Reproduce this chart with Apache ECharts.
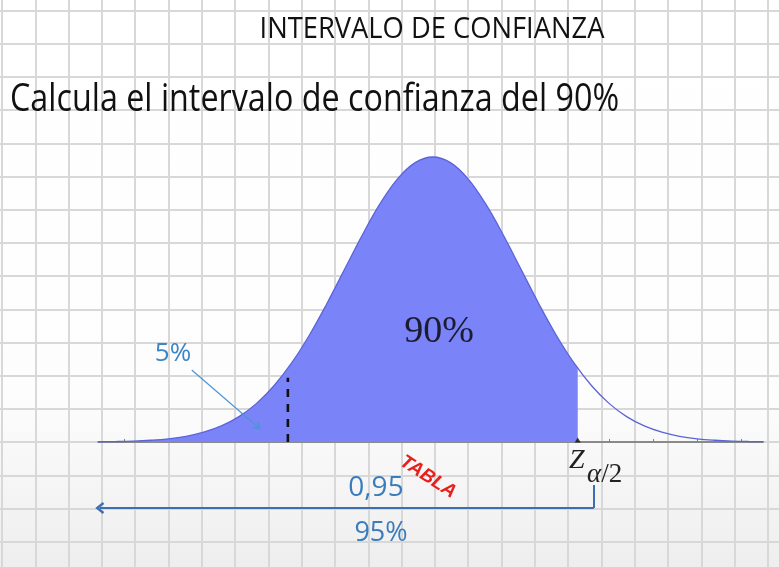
<!DOCTYPE html>
<html>
<head>
<meta charset="utf-8">
<script src="https://cdn.jsdelivr.net/npm/echarts@6/dist/echarts.min.js"></script>
<style>html,body{margin:0;padding:0;background:#fff}#c{width:779px;height:567px}</style>
</head>
<body>
<div id="c"></div>
<script>
// ---- data ----
const zValues = [-3.8,-3.6,-3.4,-3.2,-3.0,-2.8,-2.6,-2.4,-2.2,-2.0,-1.8,-1.6,-1.4,-1.2,-1.0,-0.8,-0.6,-0.4,-0.2,0,0.2,0.4,0.6,0.8,1.0,1.2,1.4,1.6,1.8,2.0,2.2,2.4,2.6,2.8,3.0,3.2,3.4,3.6,3.75];
const density = [0.0003,0.0006,0.0012,0.0024,0.0044,0.0079,0.0136,0.0224,0.0355,0.0540,0.0790,0.1109,0.1497,0.1942,0.2420,0.2897,0.3332,0.3683,0.3910,0.3989,0.3910,0.3683,0.3332,0.2897,0.2420,0.1942,0.1497,0.1109,0.0790,0.0540,0.0355,0.0224,0.0136,0.0079,0.0044,0.0024,0.0012,0.0006,0.0004];
const upperZ = 1.645, upperDensity = 0.1031;     // z_{alpha/2}
const lowerZ = -1.645, lowerDashTop = 0.09;      // dashed line
const tickValues = [-3.5,-3,-2.5,-2,-1.5,-1,-0.5,0,0.5,1,1.5,2,2.5,3,3.5];
const tailArrow = [[-2.736, 0.1008], [-1.986, 0.021]];            // "5%" pointer
const tableArrow = [[1.827, -0.0602], [1.827, -0.0924], [-3.78, -0.0924]]; // 0,95 / 95% arrow
const titleText = 'INTERVALO DE CONFIANZA';
const questionText = 'Calcula el intervalo de confianza del 90%';

const curve = zValues.map((z, i) => [z, density[i]]);
const shaded = curve.filter(p => p[0] < upperZ).concat([[upperZ, upperDensity]]);
const dashData = [[lowerZ, 0], [lowerZ, lowerDashTop]];

const SANS = '"Open Sans", "Liberation Sans", sans-serif';
const SERIF = '"Liberation Serif", "DejaVu Serif", serif';
const chevron = 'path://M5,0 L10,7 L8.4,8.4 L5,3.6 L1.6,8.4 L0,7 Z';

const chart = echarts.init(document.getElementById('c'), null, {renderer: 'canvas'});
chart.setOption({
  animation: false,
  backgroundColor: {type: 'linear', x: 0, y: 0, x2: 0, y2: 1, colorStops: [
    {offset: 0, color: '#ffffff'}, {offset: 0.7, color: '#fdfdfd'}, {offset: 1, color: '#eeeeee'}]},
  grid: [
    {left: 98, top: 156.2, width: 665.2, height: 407.2, outerBoundsMode: 'none'},
    {left: -31.3, top: -22.7, width: 832.5, height: 630.8, outerBoundsMode: 'none'}
  ],
  xAxis: [
    {type: 'value', gridIndex: 0, min: -3.8, max: 3.75,
      axisLine: {show: true, onZero: true, lineStyle: {color: '#707070', width: 1.5}},
      axisTick: {show: true, inside: true, length: 3, customValues: tickValues, lineStyle: {color: '#808080', width: 1}},
      axisLabel: {show: false}, splitLine: {show: false}},
    {type: 'value', gridIndex: 1, min: 0, max: 25, interval: 1,
      axisLine: {show: false}, axisTick: {show: false}, axisLabel: {show: false},
      splitLine: {show: true, lineStyle: {color: '#d8d8d8', width: 2}}}
  ],
  yAxis: [
    {type: 'value', gridIndex: 0, min: -0.17, max: 0.4, show: false, splitLine: {show: false}},
    {type: 'value', gridIndex: 1, min: 0, max: 19, interval: 1,
      axisLine: {show: false}, axisTick: {show: false}, axisLabel: {show: false},
      splitLine: {show: true, lineStyle: {color: '#d8d8d8', width: 2}}}
  ],
  series: [
    {type: 'line', xAxisIndex: 0, yAxisIndex: 0, data: shaded, smooth: 0.4, symbol: 'none',
      lineStyle: {width: 0}, areaStyle: {color: '#7b83f9', opacity: 1}, silent: true, z: 2},
    {type: 'line', xAxisIndex: 0, yAxisIndex: 0, data: curve, smooth: 0.4, symbol: 'none',
      lineStyle: {color: '#5a64d8', width: 1.3}, silent: true, z: 3},
    {type: 'line', xAxisIndex: 0, yAxisIndex: 0, data: dashData, symbol: 'none',
      lineStyle: {color: '#111111', width: 2.6, type: [8, 7]}, silent: true, z: 4,
      markLine: {silent: true, animation: false, label: {show: false}, emphasis: {disabled: true},
        data: [
          [{coord: tailArrow[0], symbol: 'none', lineStyle: {color: '#5094d6', width: 1.2, type: 'solid'}},
           {coord: tailArrow[1], symbol: chevron, symbolSize: [9, 8]}],
          [{coord: tableArrow[0], symbol: 'none', lineStyle: {color: '#3e6eb0', width: 2, type: 'solid'}},
           {coord: tableArrow[1], symbol: 'none'}],
          [{coord: tableArrow[1], symbol: 'none', lineStyle: {color: '#3e6eb0', width: 2, type: 'solid'}},
           {coord: tableArrow[2], symbol: chevron, symbolSize: [12, 9]}]
        ]}},
    {type: 'scatter', xAxisIndex: 0, yAxisIndex: 0, data: [[upperZ, 0]], symbol: 'triangle',
      symbolSize: [6, 5], symbolOffset: [0, -2], itemStyle: {color: '#111'}, silent: true, z: 5}
  ],
  graphic: [
    {type: 'text', x: 432, y: 29, scaleX: 0.91, style: {text: titleText, x: 0, y: 0, align: 'center', verticalAlign: 'middle',
      font: '30px ' + SANS, fill: '#111'}, z: 10},
    {type: 'text', x: 10, y: 100, scaleX: 0.85, style: {text: questionText, x: 0, y: 0, align: 'left', verticalAlign: 'middle',
      font: '38px ' + SANS, fill: '#111'}, z: 10},
    {type: 'text', style: {text: '90%', x: 439, y: 332, align: 'center', verticalAlign: 'middle',
      font: '38px ' + SERIF, fill: '#1c1c30'}, z: 10},
    {type: 'text', style: {text: '5%', x: 173, y: 354, align: 'center', verticalAlign: 'middle',
      font: '26px ' + SANS, fill: '#3d86c6'}, z: 10},
    {type: 'text', rotation: -0.58, x: 428, y: 477, style: {text: 'TABLA', x: 0, y: 0, align: 'center', verticalAlign: 'middle',
      font: 'italic bold 19px "Liberation Sans", sans-serif', fill: '#e8201c'}, z: 10},
    {type: 'text', style: {text: '0,95', x: 376, y: 488, align: 'center', verticalAlign: 'middle',
      font: '28px ' + SANS, fill: '#3a7cbc'}, z: 10},
    {type: 'text', style: {text: '95%', x: 381, y: 533, align: 'center', verticalAlign: 'middle',
      font: '27px ' + SANS, fill: '#3a7cbc'}, z: 10},
    {type: 'text', style: {text: 'Z', x: 569, y: 461, align: 'left', verticalAlign: 'middle',
      font: 'italic 28px ' + SERIF, fill: '#222'}, z: 10},
    {type: 'text', style: {text: '{a|α}{b|/2}', x: 587, y: 475, align: 'left', verticalAlign: 'middle',
      rich: {a: {font: 'italic 27px ' + SERIF, fill: '#222'}, b: {font: '27px ' + SERIF, fill: '#222'}}}, z: 10}
  ]
});
</script>
</body>
</html>
